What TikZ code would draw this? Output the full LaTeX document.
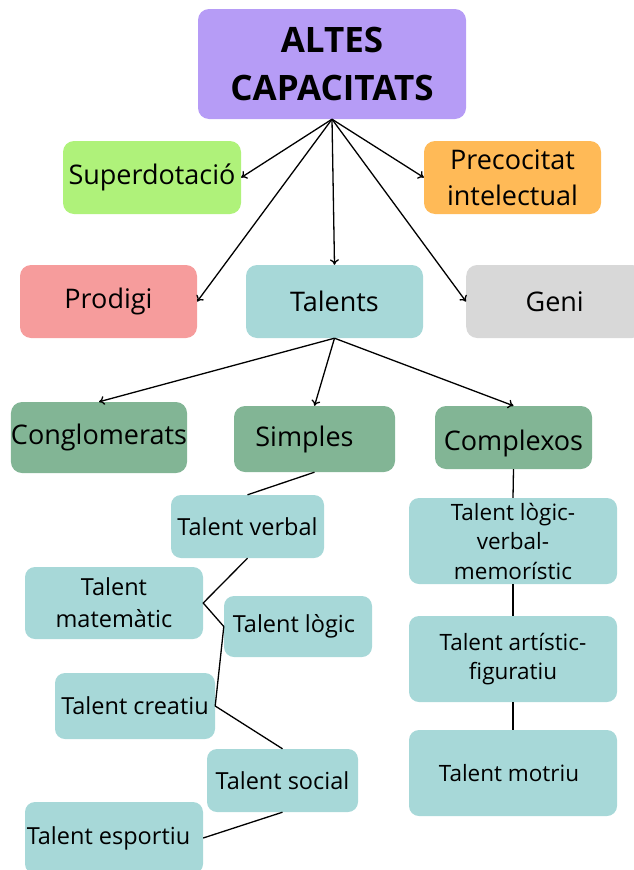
\documentclass[tikz,border=0pt]{standalone}
\usepackage{fontspec}
\setmainfont{Open Sans}
\usetikzlibrary{arrows.meta}
\definecolor{cPurple}{HTML}{B69CF6}
\definecolor{cGreen}{HTML}{AFF27A}
\definecolor{cOrange}{HTML}{FFBA57}
\definecolor{cPink}{HTML}{F69C9C}
\definecolor{cTeal}{HTML}{A7D8D8}
\definecolor{cGray}{HTML}{D8D8D8}
\definecolor{cDark}{HTML}{82B595}
\begin{document}
\begin{tikzpicture}[x=1pt,y=-1pt,
  box/.style={rounded corners=11pt, inner sep=0pt, align=center, text=black},
  big/.style={box, font=\fontsize{27}{36.5}\selectfont},
  small/.style={box, rounded corners=10pt, font=\fontsize{23.5}{32}\selectfont},
  right col/.style={small, minimum width=208pt, minimum height=86pt, font=\fontsize{22.5}{29.5}\selectfont},
  conn/.style={line width=1.3pt, black},
  arr/.style={conn, -{To[length=5.5pt,width=9pt]}}
]
\useasboundingbox (0,0) rectangle (633,870);
% top
\node[box, fill=cPurple, minimum width=268pt, minimum height=110pt,
  font=\fontsize{35}{48}\bfseries\selectfont] (top) at (332,64) {ALTES\\CAPACITATS};
% level 1
\node[big, fill=cGreen, minimum width=178pt, minimum height=73pt] (sup) at (152,177.5) {Superdotació};
\node[big, fill=cOrange, minimum width=177pt, minimum height=73pt] (pre) at (512.5,177.5) {Precocitat\\intelectual};
\node[big, fill=cPink, minimum width=177pt, minimum height=73pt] (pro) at (108.5,301.5) {Prodigi};
\node[big, fill=cTeal, minimum width=177pt, minimum height=73pt] (tal) at (334.5,301.5) {Talents};
\node[big, fill=cGray, minimum width=177pt, minimum height=73pt, anchor=west] (gen) at (466,301.5) {Geni};
% level 2
\node[big, fill=cDark, minimum width=174pt, minimum height=71pt] (con) at (99,437.5) {Conglomerats};
\node[big, fill=cDark, minimum width=161pt, minimum height=66pt] (sim) at (314.5,439) {\hspace*{-20pt}Simples};
\node[big, fill=cDark, minimum width=157pt, minimum height=63pt] (cpx) at (513.5,437.5) {};
\node[big] (cpxt) at ([yshift=-6pt]cpx.center) {Complexos};
% simples column
\node[small, fill=cTeal, minimum width=153pt, minimum height=63pt] (tve) at (247.5,526.5) {Talent verbal};
\node[small, fill=cTeal, minimum width=178pt, minimum height=72pt] (tma) at (114,603) {Talent\\matemàtic};
\node[small, fill=cTeal, minimum width=148pt, minimum height=61pt] (tlo) at (298,626.5) {\hspace*{-8pt}Talent lògic};
\node[small, fill=cTeal, minimum width=160pt, minimum height=66pt] (tcr) at (135,706) {Talent creatiu};
\node[small, fill=cTeal, minimum width=151pt, minimum height=63pt] (tso) at (282.5,780.5) {Talent social};
\node[small, fill=cTeal, minimum width=178pt, minimum height=72pt] (tes) at (114,838) {\hspace*{-11pt}Talent esportiu};
% complexos column
\node[right col, fill=cTeal] (tlv) at (513,541) {Talent lògic-\\verbal-\\memorístic};
\node[right col, fill=cTeal] (tar) at (513,659) {Talent artístic-\\figuratiu};
\node[right col, fill=cTeal] (tmo) at (513,773) {\hspace*{-8pt}Talent motriu};
% arrows from top
\draw[arr] (top.south) -- (sup.east);
\draw[arr] (top.south) -- (pro.east);
\draw[arr] (top.south) -- (tal.north);
\draw[arr] (top.south) -- (pre.west);
\draw[arr] (top.south) -- (gen.west);
% arrows from talents
\draw[arr] (tal.south) -- (con.north);
\draw[arr] (tal.south) -- (sim.north);
\draw[arr] (tal.south) -- (cpx.north);
% simples lines
\draw[conn] (sim.south) -- (tve.north);
\draw[conn] (tve.south) -- (tma.east) -- (tlo.west) -- (tcr.east) -- (tso.north);
\draw[conn] (tso.south) -- (tes.east);
% complexos lines
\draw[conn] (cpx.south) -- (tlv.north);
\draw[conn] (tlv.south) -- (tar.north);
\draw[conn] (tar.south) -- (tmo.north);
\end{tikzpicture}
\end{document}
